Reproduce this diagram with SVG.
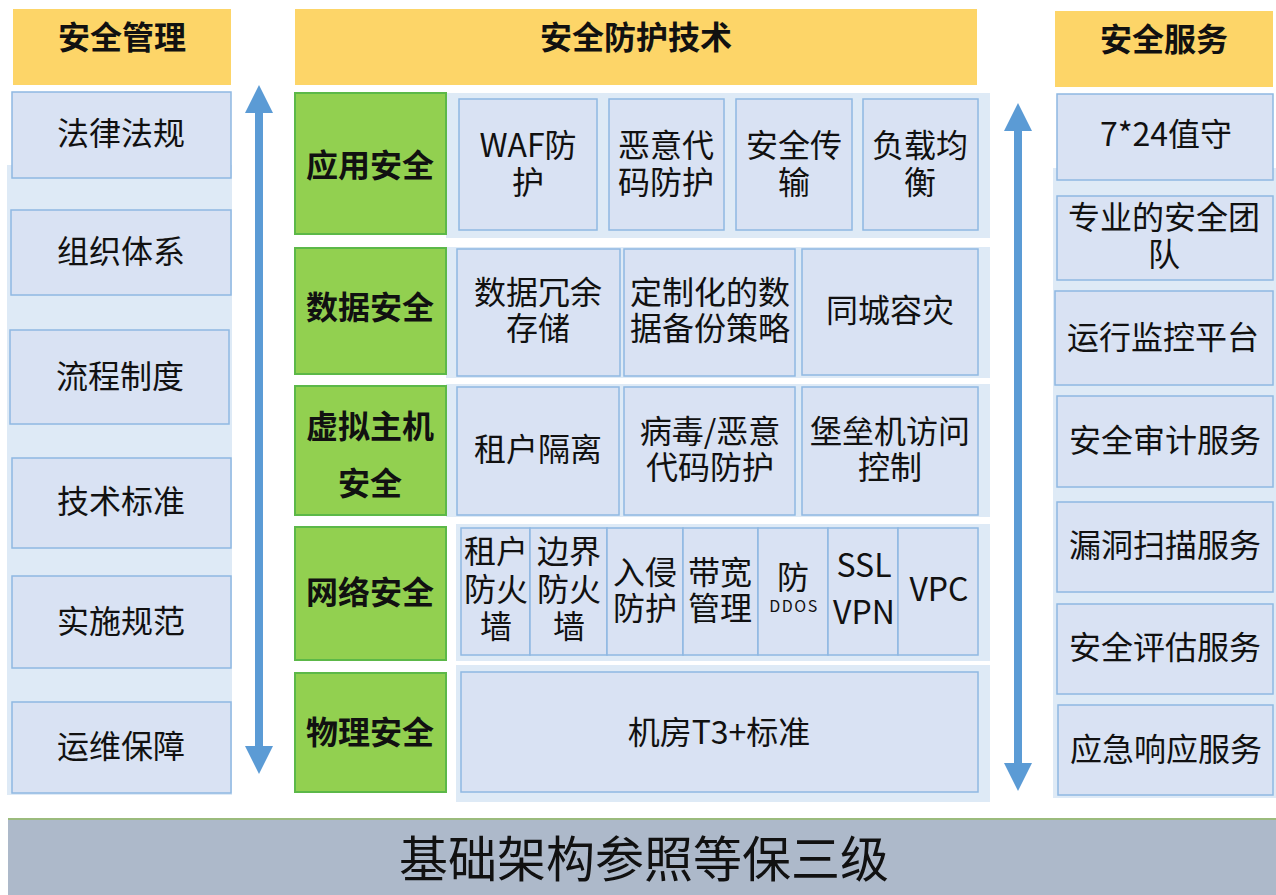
<svg xmlns="http://www.w3.org/2000/svg" width="1276" height="895" viewBox="0 0 1276 895">
<defs>
<style>
text{font-family:"Microsoft YaHei","Noto Sans CJK SC","Noto Sans",sans-serif;fill:#111;text-anchor:middle;dominant-baseline:central}
.hd{fill:#fdd568}
.hdt{font-size:32px;font-weight:bold}
.bg{fill:#deeaf6}
.bx{fill:#d9e2f3;stroke:#8fb8e2;stroke-width:1.5}
.gr{fill:#92d050;stroke:#5cb848;stroke-width:2}
.gt{font-size:32px;font-weight:bold}
.t{font-size:32px}
.sm{font-size:16px;letter-spacing:1.5px}
.arr{fill:#5b9bd5}
</style>
</defs>
<rect width="1276" height="895" fill="#fff"/>

<!-- backgrounds -->
<rect class="bg" x="7" y="165" width="225" height="630"/>
<rect class="bg" x="1053" y="168" width="223" height="630"/>
<rect class="bg" x="446" y="93" width="544" height="145"/>
<rect class="bg" x="446" y="247" width="544" height="131"/>
<rect class="bg" x="446" y="384" width="544" height="133"/>
<rect class="bg" x="456" y="524" width="534" height="137"/>
<rect class="bg" x="456" y="665" width="534" height="137"/>

<!-- left column -->
<g id="mgmt-header"><rect class="hd" x="13" y="9" width="218" height="76"/><text class="hdt" x="122" y="35">安全管理</text></g>
<g id="m1"><rect class="bx" x="12" y="92" width="219" height="86"/><text class="t" x="121" y="131">法律法规</text></g>
<g id="m2"><rect class="bx" x="11" y="210" width="220" height="85"/><text class="t" x="121" y="249">组织体系</text></g>
<g id="m3"><rect class="bx" x="10" y="330" width="219" height="94"/><text class="t" x="120" y="374">流程制度</text></g>
<g id="m4"><rect class="bx" x="12" y="458" width="219" height="90"/><text class="t" x="121" y="499">技术标准</text></g>
<g id="m5"><rect class="bx" x="12" y="576" width="219" height="92"/><text class="t" x="121" y="619">实施规范</text></g>
<g id="m6"><rect class="bx" x="12" y="702" width="219" height="91"/><text class="t" x="121" y="744">运维保障</text></g>

<!-- middle -->
<g id="tech-header"><rect class="hd" x="295" y="9" width="682" height="76"/><text class="hdt" x="636" y="35">安全防护技术</text></g>

<g id="app"><rect class="gr" x="295" y="93" width="151" height="141"/><text class="gt" x="370" y="163">应用安全</text></g>
<g id="app1"><rect class="bx" x="459" y="99" width="138" height="131"/><text class="t" x="528" y="143">WAF防</text><text class="t" x="528" y="180">护</text></g>
<g id="app2"><rect class="bx" x="609" y="99" width="115" height="131"/><text class="t" x="666" y="143">恶意代</text><text class="t" x="666" y="180">码防护</text></g>
<g id="app3"><rect class="bx" x="736" y="99" width="116" height="131"/><text class="t" x="794" y="143">安全传</text><text class="t" x="794" y="180">输</text></g>
<g id="app4"><rect class="bx" x="863" y="99" width="115" height="131"/><text class="t" x="920" y="143">负载均</text><text class="t" x="920" y="180">衡</text></g>

<g id="data"><rect class="gr" x="295" y="248" width="151" height="126"/><text class="gt" x="370" y="305">数据安全</text></g>
<g id="data1"><rect class="bx" x="457" y="249" width="163" height="127"/><text class="t" x="538" y="290">数据冗余</text><text class="t" x="538" y="326">存储</text></g>
<g id="data2"><rect class="bx" x="624" y="249" width="171" height="127"/><text class="t" x="710" y="290">定制化的数</text><text class="t" x="710" y="326">据备份策略</text></g>
<g id="data3"><rect class="bx" x="802" y="249" width="176" height="126"/><text class="t" x="890" y="308">同城容灾</text></g>

<g id="vm"><rect class="gr" x="295" y="386" width="151" height="129"/><text class="gt" x="370" y="424">虚拟主机</text><text class="gt" x="370" y="481">安全</text></g>
<g id="vm1"><rect class="bx" x="457" y="387" width="162" height="128"/><text class="t" x="538" y="447">租户隔离</text></g>
<g id="vm2"><rect class="bx" x="624" y="387" width="171" height="128"/><text class="t" x="710" y="429">病毒/恶意</text><text class="t" x="710" y="465">代码防护</text></g>
<g id="vm3"><rect class="bx" x="802" y="387" width="176" height="128"/><text class="t" x="890" y="429">堡垒机访问</text><text class="t" x="890" y="465">控制</text></g>

<g id="net"><rect class="gr" x="295" y="527" width="151" height="133"/><text class="gt" x="370" y="590">网络安全</text></g>
<g id="net1"><rect class="bx" x="461" y="528" width="69" height="127"/><text class="t" x="496" y="549">租户</text><text class="t" x="496" y="587">防火</text><text class="t" x="496" y="624">墙</text></g>
<g id="net2"><rect class="bx" x="530" y="528" width="77" height="127"/><text class="t" x="569" y="549">边界</text><text class="t" x="569" y="587">防火</text><text class="t" x="569" y="624">墙</text></g>
<g id="net3"><rect class="bx" x="607" y="528" width="76" height="127"/><text class="t" x="645" y="570">入侵</text><text class="t" x="645" y="606">防护</text></g>
<g id="net4"><rect class="bx" x="683" y="528" width="75" height="127"/><text class="t" x="720" y="570">带宽</text><text class="t" x="720" y="606">管理</text></g>
<g id="net5"><rect class="bx" x="758" y="528" width="70" height="127"/><text class="t" x="793" y="575">防</text><text class="sm" x="794" y="605">DDOS</text></g>
<g id="net6"><rect class="bx" x="828" y="528" width="70" height="127"/><text class="t" x="864" y="563">SSL</text><text class="t" x="864" y="610">VPN</text></g>
<g id="net7"><rect class="bx" x="898" y="528" width="80" height="127"/><text class="t" x="939" y="587">VPC</text></g>

<g id="phy"><rect class="gr" x="295" y="673" width="151" height="119"/><text class="gt" x="370" y="730">物理安全</text></g>
<g id="phy1"><rect class="bx" x="461" y="672" width="517" height="120"/><text class="t" x="719" y="730">机房T3+标准</text></g>

<!-- right column -->
<g id="svc-header"><rect class="hd" x="1055" y="11" width="218" height="76"/><text class="hdt" x="1164" y="37">安全服务</text></g>
<g id="s1"><rect class="bx" x="1057" y="94" width="216" height="86"/><text class="t" x="1166" y="132">7*24值守</text></g>
<g id="s2"><rect class="bx" x="1057" y="196" width="216" height="84"/><text class="t" x="1164" y="215">专业的安全团</text><text class="t" x="1164" y="252">队</text></g>
<g id="s3"><rect class="bx" x="1055" y="291" width="218" height="94"/><text class="t" x="1163" y="335">运行监控平台</text></g>
<g id="s4"><rect class="bx" x="1057" y="396" width="216" height="91"/><text class="t" x="1165" y="438">安全审计服务</text></g>
<g id="s5"><rect class="bx" x="1057" y="502" width="216" height="90"/><text class="t" x="1165" y="543">漏洞扫描服务</text></g>
<g id="s6"><rect class="bx" x="1057" y="604" width="216" height="90"/><text class="t" x="1165" y="645">安全评估服务</text></g>
<g id="s7"><rect class="bx" x="1058" y="705" width="215" height="90"/><text class="t" x="1166" y="747">应急响应服务</text></g>

<!-- connectors (double arrows) -->
<g id="connectors">
<g id="arrow-left"><rect class="arr" x="255" y="110" width="8" height="640"/><polygon class="arr" points="259,85 273,113 245,113"/><polygon class="arr" points="259,774 273,746 245,746"/></g>
<g id="arrow-right"><rect class="arr" x="1014" y="128" width="8" height="638"/><polygon class="arr" points="1018,103 1032,131 1004,131"/><polygon class="arr" points="1018,791 1032,763 1004,763"/></g>
</g>

<!-- bottom bar -->
<g id="base"><rect x="8" y="819" width="1270" height="80" fill="#adb9ca"/><line x1="8" y1="819" x2="1276" y2="819" stroke="#9bbb7d" stroke-width="2"/><text x="644" y="855" style="font-size:49px">基础架构参照等保三级</text></g>
</svg>
